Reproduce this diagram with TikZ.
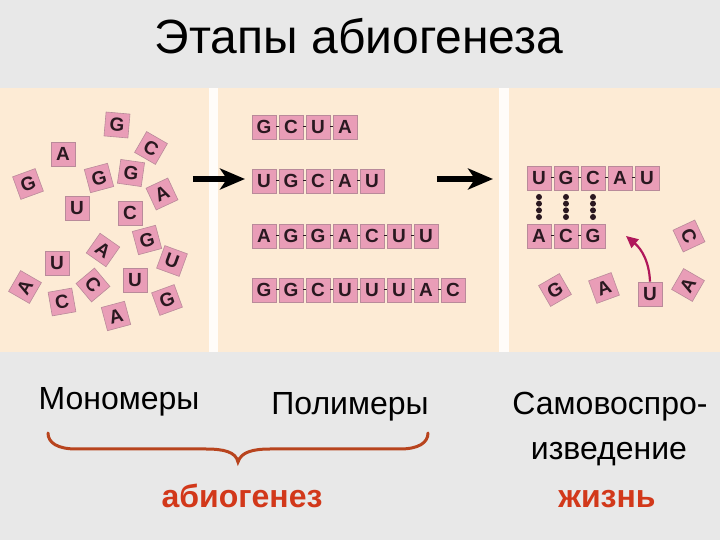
\documentclass[tikz,border=0pt]{standalone}
\usepackage{fontspec}
\setmainfont{Liberation Sans}
\usetikzlibrary{arrows.meta,calc}
\definecolor{bggray}{HTML}{E8E8E8}
\definecolor{paper}{HTML}{FDEBD5}
\definecolor{tilepink}{HTML}{E99DB7}
\definecolor{tileedge}{HTML}{B98A9A}
\definecolor{tileink}{HTML}{2A1820}
\definecolor{bracered}{HTML}{B8441E}
\definecolor{lifered}{HTML}{D2381A}
\definecolor{pairpink}{HTML}{B0175A}
\newlength{\tilesize}
\setlength{\tilesize}{12pt}
% one strand: prefix, x of first tile, y, bases
\newcommand{\rnachain}[4]{%
  \foreach \base [count=\i] in {#4}
    \node[tile] (#1-\i) at ({#2+27*(\i-1)},#3) {\base};
  \foreach \base [count=\i] in {#4}
    {\ifnum\i>1 \pgfmathtruncatemacro{\p}{\i-1}\draw[link] (#1-\p) -- (#1-\i);\fi}
}

\begin{document}
\begin{tikzpicture}[x=0.5pt,y=-0.5pt,
    tile/.style={draw=tileedge,fill=tilepink,line width=0.3pt,minimum size=\tilesize,
      inner sep=0pt,text=tileink,font=\bfseries\fontsize{9.5}{9.5}\selectfont},
    link/.style={draw=tileink,line width=0.5pt},
    bigarrow/.style={line width=2.6pt,-{Stealth[length=12.5pt,width=10.5pt,inset=3.5pt]}},
    caption/.style={font=\fontsize{16}{16}\selectfont,anchor=base},
    redword/.style={font=\bfseries\fontsize{16}{16}\selectfont,text=lifered,anchor=base}]
  % background and panels
  \fill[bggray] (0,0) rectangle (720,540);
  \fill[paper] (0,88) rectangle (720,352);
  \fill[white!85!paper] (209,88) rectangle (218,352);
  \fill[white!85!paper] (499,88) rectangle (509,352);
  \node[font=\fontsize{24}{24}\selectfont,anchor=base] (title) at (359,54) {Этапы абиогенеза};

  % monomers
  \node[tile,rotate=-5]  (m1)  at (117,125) {G};
  \node[tile,rotate=-30] (m2)  at (151,148) {C};
  \node[tile]            (m3)  at (63,154)  {A};
  \node[tile,rotate=20]  (m4)  at (28,184)  {G};
  \node[tile,rotate=15]  (m5)  at (99,178)  {G};
  \node[tile,rotate=-8]  (m6)  at (131,173) {G};
  \node[tile,rotate=25]  (m7)  at (162,194) {A};
  \node[tile]            (m8)  at (77,208)  {U};
  \node[tile]            (m9)  at (130,213) {C};
  \node[tile,rotate=15]  (m10) at (147,240) {G};
  \node[tile,rotate=-35] (m11) at (103,250) {A};
  \node[tile,rotate=-20] (m12) at (172,261) {U};
  \node[tile]            (m13) at (57,263)  {U};
  \node[tile,rotate=-50] (m14) at (93,285)  {C};
  \node[tile]            (m15) at (135,280) {U};
  \node[tile,rotate=60]  (m16) at (25,287)  {A};
  \node[tile,rotate=10]  (m17) at (62,302)  {C};
  \node[tile,rotate=20]  (m18) at (167,300) {G};
  \node[tile,rotate=15]  (m19) at (116,316) {A};

  % polymers
  \rnachain{pa}{264}{127}{G,C,U,A}
  \rnachain{pb}{264}{181}{U,G,C,A,U}
  \rnachain{pc}{264}{236}{A,G,G,A,C,U,U}
  \rnachain{pd}{264}{290}{G,G,C,U,U,U,A,C}

  % replication
  \rnachain{dup}{539}{178}{U,G,C,A,U}
  \rnachain{cpy}{539}{236}{A,C,G}
  \foreach \c in {1,2,3}
    \foreach \f in {0.2,0.4,0.6,0.8}
      \fill[tileink] ($(dup-\c.south)!\f!(cpy-\c.north)$) circle (1.5pt);
  \node[tile,rotate=30]  (f1) at (555,290) {G};
  \node[tile,rotate=20]  (f2) at (604,288) {A};
  \node[tile]            (f3) at (650,294) {U};
  \node[tile,rotate=-65] (f4) at (689,236) {C};
  \node[tile,rotate=60]  (f5) at (688,285) {A};
  \coordinate (pairtip) at (626,236);
  \draw[pairpink,line width=1.1pt,-{Triangle[length=6pt,width=5.5pt]}]
    (f3.north) to[out=92,in=-40] (pairtip);

  % stage arrows
  \coordinate (s1a) at (193,179);
  \coordinate (s1b) at (245,179);
  \coordinate (s2a) at (437,179);
  \coordinate (s2b) at (493,179);
  \draw[bigarrow] (s1a) -- (s1b);
  \draw[bigarrow] (s2a) -- (s2b);

  % captions
  \node[caption] (mono)  at (119,410) {Мономеры};
  \node[caption] (poly)  at (350,415) {Полимеры};
  \node[caption] (self1) at (610,415) {Самовоспро-};
  \node[caption] (self2) at (609,460) {изведение};
  \draw[bracered,line width=1.5pt,line cap=round]
    (48,433) .. controls (48,443) and (58,449) .. (76,449) -- (206,449)
    .. controls (224,449) and (236,452) .. (238,462)
    .. controls (241,452) and (253,449) .. (270,449) -- (400,449)
    .. controls (418,449) and (428,443) .. (428,433);
  \node[redword] (abio) at (242,508) {абиогенез};
  \node[redword] (life) at (607,508) {жизнь};
\end{tikzpicture}
\end{document}
